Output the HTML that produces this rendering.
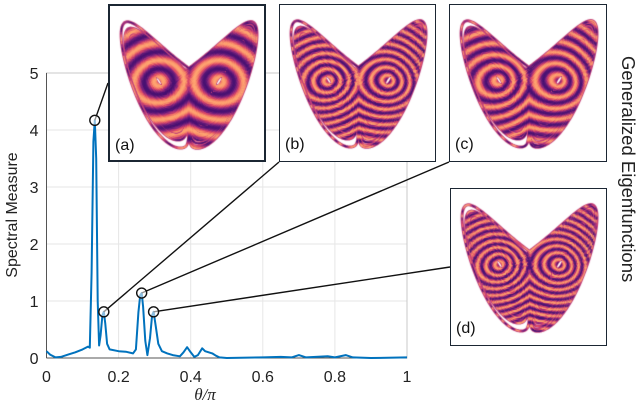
<!DOCTYPE html>
<html><head><meta charset="utf-8"><style>
body{margin:0;background:#fff;width:640px;height:416px;overflow:hidden;position:relative;font-family:"Liberation Sans",sans-serif}
.inset{position:absolute;box-sizing:border-box;border:1.5px solid #1b2633;background:#fff}
.inset canvas{position:absolute;left:0;top:0}
.lab{position:absolute;font-size:16px;color:#111}
#etitle{position:absolute;left:618px;top:56px;writing-mode:vertical-rl;font-size:18.5px;color:#222;white-space:nowrap;line-height:20px}
</style></head><body>
<svg id="chart" width="640" height="416" style="position:absolute;left:0;top:0">
<g id="grid"></g>
<g id="ticks"></g>
<path id="curve" fill="none" stroke="#0072bd" stroke-width="2" stroke-linejoin="round"></path>
<g id="callouts"></g>
<text x="13" y="215" transform="rotate(-90 13 215)" text-anchor="middle" dominant-baseline="middle" font-size="16" fill="#222">Spectral Measure</text>
<text x="205" y="400" text-anchor="middle" font-size="17" fill="#222" font-family="Liberation Serif" font-style="italic">θ/π</text>
</svg>
<div id="etitle">Generalized Eigenfunctions</div>
<div class="inset" style="left:108px;top:4px;width:158px;height:158px;border-width:2px"><canvas width="158" height="158"></canvas><span class="lab" style="left:5px;top:131px">(a)</span></div>
<div class="inset" style="left:279px;top:4px;width:157px;height:158px"><canvas width="157" height="158"></canvas><span class="lab" style="left:5px;top:131px">(b)</span></div>
<div class="inset" style="left:449px;top:4px;width:158px;height:158px"><canvas width="158" height="158"></canvas><span class="lab" style="left:5px;top:131px">(c)</span></div>
<div class="inset" style="left:450px;top:188px;width:157px;height:158px"><canvas width="157" height="158"></canvas><span class="lab" style="left:5px;top:131px">(d)</span></div>
<script>
const thetaVals=[0,0.01,0.025,0.04,0.06,0.08,0.1,0.115,0.12,0.125,0.13,0.134,0.138,0.142,0.146,0.15,0.155,0.159,0.163,0.168,0.175,0.2,0.22,0.24,0.248,0.255,0.26,0.264,0.268,0.274,0.28,0.287,0.293,0.297,0.302,0.31,0.32,0.335,0.35,0.37,0.38,0.39,0.4,0.41,0.42,0.432,0.44,0.45,0.46,0.47,0.48,0.5,0.6,0.65,0.68,0.7,0.72,0.78,0.8,0.83,0.85,0.9,1.0];
const measureVals=[0.12,0.06,0.01,0.02,0.06,0.10,0.15,0.2,0.18,1.5,3.8,4.17,3.5,1.0,0.22,0.4,0.75,0.81,0.6,0.25,0.15,0.12,0.11,0.08,0.15,0.8,1.1,1.14,0.9,0.3,0.05,0.35,0.75,0.81,0.6,0.25,0.12,0.08,0.05,0.03,0.1,0.19,0.1,0.02,0.05,0.17,0.12,0.1,0.08,0.04,0.01,0.0,0.01,0.02,0.01,0.05,0.01,0.03,0.01,0.05,0.01,0.0,0.01];
const xTicks=[0,0.2,0.4,0.6,0.8,1];
const xTickLabels=["0","0.2","0.4","0.6","0.8","1"];
const yTicks=[0,1,2,3,4,5];
const calloutTheta=[0.134,0.159,0.264,0.297];
const calloutVal=[4.17,0.81,1.14,0.81];
const calloutEnds=[[108,83],[279,162],[449,162],[450,267]];
const X0=46.5,X1=407,Y0=358,Y1=73;
const sx=v=>X0+v*(X1-X0), sy=v=>Y0-v/5*(Y0-Y1);
const NS='http://www.w3.org/2000/svg';
function mk(tag,attrs,parent){const e=document.createElementNS(NS,tag);for(const k in attrs)e.setAttribute(k,attrs[k]);parent.appendChild(e);return e;}
const grid=document.getElementById('grid'),ticks=document.getElementById('ticks');
xTicks.forEach((t,i)=>{
 const l=mk('line',{x1:sx(t),x2:sx(t),y1:Y1,y2:Y0,stroke:'#e6e6e6'},grid);
 
 
 const tx=mk('text',{x:sx(t),y:Y0+24,'text-anchor':'middle','font-size':16,fill:'#222'},ticks);
 tx.textContent=xTickLabels[i];
 
 
});
yTicks.forEach(t=>{
 const l=mk('line',{x1:X0,x2:X1,y1:sy(t),y2:sy(t),stroke:'#e6e6e6'},grid);
 
 
 const tx=mk('text',{x:X0-8,y:sy(t)+6,'text-anchor':'end','font-size':16,fill:'#222'},ticks);
 tx.textContent=String(t);
 
 
});
mk('rect',{x:X0,y:Y1,width:X1-X0,height:Y0-Y1,fill:'none',stroke:'#c8c8c8'},grid);
mk('line',{x1:X0,x2:X0,y1:Y1,y2:Y0,stroke:'#555'},grid);
mk('line',{x1:X0,x2:X1,y1:Y0,y2:Y0,stroke:'#555'},grid);
document.getElementById('curve').setAttribute('d',thetaVals.map((t,i)=>(i?'L':'M')+sx(t).toFixed(1)+','+sy(measureVals[i]).toFixed(1)).join(''));
const co=document.getElementById('callouts');
calloutTheta.forEach((t,i)=>{
 const cx=sx(t),cy=sy(calloutVal[i]);
 const ln=mk('line',{x1:cx,y1:cy,x2:calloutEnds[i][0],y2:calloutEnds[i][1],stroke:'#111','stroke-width':1.4},co);
 
 
 const c=mk('circle',{cx:cx,cy:cy,r:5,fill:'rgba(255,255,255,0.55)',stroke:'#111','stroke-width':1.4},co);
 
 
});
// Lorenz attractor insets (decorative)
const pts=[];let x=1,y=1,z=20;const dt=0.004;
for(let i=0;i<40000;i++){const dx=10*(y-x),dy=x*(28-z)-y,dz=x*y-8/3*z;x+=dx*dt;y+=dy*dt;z+=dz*dt;if(i>1000)pts.push([x,z]);}
const stops=[[0,[0,0,4]],[0.2,[59,15,112]],[0.4,[140,41,129]],[0.6,[222,73,104]],[0.8,[254,159,109]],[1,[252,253,191]]];
function magma(v){v=Math.max(0,Math.min(1,v));for(let i=1;i<stops.length;i++){if(v<=stops[i][0]){const a=stops[i-1],b=stops[i],f=(v-a[0])/(b[0]-a[0]);return 'rgb('+a[1].map((c,k)=>Math.round(c+(b[1][k]-c)*f)).join(',')+')';}}return 'rgb(252,253,191)';}
const cfg=[[1.1,0],[2.4,1],[1.7,2],[2.8,0.5]];
document.querySelectorAll('.inset canvas').forEach((cv,ci)=>{
 const g=cv.getContext('2d'),W=cv.width,H=cv.height;
 const mx=v=>8+(v+20)/40*(W-16), mz=v=>H-7-(v-1)/49*(H-16);
 g.lineCap='round';
 g.strokeStyle='#c2407a';g.lineWidth=3;g.beginPath();
 pts.forEach((p,i)=>{const X=mx(p[0]),Z=mz(p[1]);i?g.lineTo(X,Z):g.moveTo(X,Z);});g.stroke();
 const [fr,ph]=cfg[ci];g.lineWidth=1.1;
 for(let i=1;i<pts.length;i+=1){
  const p=pts[i],q=pts[i-1];
  const d=Math.hypot(Math.abs(p[0])-8.5,p[1]-27);
  const v=0.5+0.45*Math.sin(fr*d+ph+(ci?p[0]*0.3:0));
  g.strokeStyle=magma(0.2+0.65*v);
  g.beginPath();g.moveTo(mx(q[0]),mz(q[1]));g.lineTo(mx(p[0]),mz(p[1]));g.stroke();
 }
});
</script>
</body></html>
